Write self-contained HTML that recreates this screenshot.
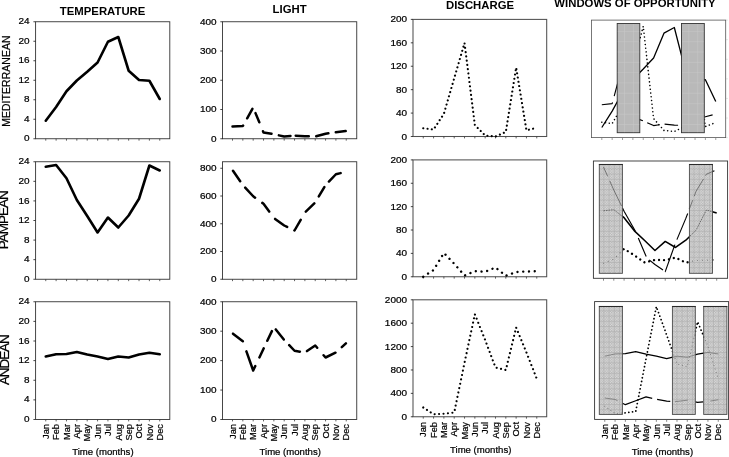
<!DOCTYPE html>
<html><head><meta charset="utf-8"><title>Figure</title>
<style>html,body{margin:0;padding:0;background:#fff}svg{display:block;filter:grayscale(1)}</style>
</head><body>
<svg width="729" height="457" viewBox="0 0 729 457" font-family='"Liberation Sans", sans-serif'>
<rect width="729" height="457" fill="#fff"/>
<text transform="translate(102.60 14.50) scale(1.135 1)" font-size="10.0" text-anchor="middle" fill="#000" font-weight="700">TEMPERATURE</text>
<text transform="translate(289.60 12.50) scale(1.135 1)" font-size="10.0" text-anchor="middle" fill="#000" font-weight="700">LIGHT</text>
<text transform="translate(480.00 9.40) scale(1.135 1)" font-size="10.0" text-anchor="middle" fill="#000" font-weight="700">DISCHARGE</text>
<text transform="translate(635.00 7.30) scale(1.135 1)" font-size="10.0" text-anchor="middle" fill="#000" font-weight="700">WINDOWS OF OPPORTUNITY</text>
<text transform="translate(9.70 81.10) rotate(-90) scale(1.0 1)" font-size="10.4" text-anchor="middle" fill="#000" stroke="#000" stroke-width="0.22" letter-spacing="0.1">MEDITERRANEAN</text>
<text transform="translate(8.40 220.25) rotate(-90) scale(1.0 1)" font-size="13.5" text-anchor="middle" fill="#000" stroke="#000" stroke-width="0.22" letter-spacing="-1.03">PAMPEAN</text>
<text transform="translate(8.60 360.20) rotate(-90) scale(1.0 1)" font-size="13.5" text-anchor="middle" fill="#000" stroke="#000" stroke-width="0.22" letter-spacing="-1.08">ANDEAN</text>
<rect x="35.6" y="21.75" width="134.20000000000002" height="117.0" fill="none" stroke="#333" stroke-width="0.9"/>
<path d="M35.60 21.75h-2.2M35.60 41.25h-2.2M35.60 60.75h-2.2M35.60 80.25h-2.2M35.60 99.75h-2.2M35.60 119.25h-2.2M35.60 138.75h-2.2" stroke="#1a1a1a" stroke-width="0.8" fill="none"/>
<text transform="translate(29.60 24.35) scale(1.085 1)" font-size="9.2" text-anchor="end" fill="#000" stroke="#000" stroke-width="0.22">24</text>
<text transform="translate(29.60 43.85) scale(1.085 1)" font-size="9.2" text-anchor="end" fill="#000" stroke="#000" stroke-width="0.22">20</text>
<text transform="translate(29.60 63.35) scale(1.085 1)" font-size="9.2" text-anchor="end" fill="#000" stroke="#000" stroke-width="0.22">16</text>
<text transform="translate(29.60 82.85) scale(1.085 1)" font-size="9.2" text-anchor="end" fill="#000" stroke="#000" stroke-width="0.22">12</text>
<text transform="translate(29.60 102.35) scale(1.085 1)" font-size="9.2" text-anchor="end" fill="#000" stroke="#000" stroke-width="0.22">8</text>
<text transform="translate(29.60 121.85) scale(1.085 1)" font-size="9.2" text-anchor="end" fill="#000" stroke="#000" stroke-width="0.22">4</text>
<text transform="translate(29.60 141.35) scale(1.085 1)" font-size="9.2" text-anchor="end" fill="#000" stroke="#000" stroke-width="0.22">0</text>
<path d="M45.75 138.75v1.9M56.11 138.75v1.9M66.48 138.75v1.9M76.84 138.75v1.9M87.21 138.75v1.9M97.57 138.75v1.9M107.93 138.75v1.9M118.30 138.75v1.9M128.66 138.75v1.9M139.03 138.75v1.9M149.39 138.75v1.9M159.75 138.75v1.9" stroke="#3a3a3a" stroke-width="0.8" fill="none"/>
<polyline points="45.75,120.75 56.11,107.00 66.48,91.25 76.84,80.50 87.21,71.75 97.57,62.50 107.93,41.75 118.30,37.00 128.66,70.75 139.03,80.00 149.39,80.75 159.75,99.00" fill="none" stroke="#000" stroke-width="2.6" stroke-linejoin="round" stroke-linecap="round"/>
<rect x="35.6" y="161.75" width="134.20000000000002" height="117.5" fill="none" stroke="#333" stroke-width="0.9"/>
<path d="M35.60 161.75h-2.2M35.60 181.33h-2.2M35.60 200.92h-2.2M35.60 220.50h-2.2M35.60 240.08h-2.2M35.60 259.67h-2.2M35.60 279.25h-2.2" stroke="#1a1a1a" stroke-width="0.8" fill="none"/>
<text transform="translate(29.60 164.35) scale(1.085 1)" font-size="9.2" text-anchor="end" fill="#000" stroke="#000" stroke-width="0.22">24</text>
<text transform="translate(29.60 183.93) scale(1.085 1)" font-size="9.2" text-anchor="end" fill="#000" stroke="#000" stroke-width="0.22">20</text>
<text transform="translate(29.60 203.52) scale(1.085 1)" font-size="9.2" text-anchor="end" fill="#000" stroke="#000" stroke-width="0.22">16</text>
<text transform="translate(29.60 223.10) scale(1.085 1)" font-size="9.2" text-anchor="end" fill="#000" stroke="#000" stroke-width="0.22">12</text>
<text transform="translate(29.60 242.68) scale(1.085 1)" font-size="9.2" text-anchor="end" fill="#000" stroke="#000" stroke-width="0.22">8</text>
<text transform="translate(29.60 262.27) scale(1.085 1)" font-size="9.2" text-anchor="end" fill="#000" stroke="#000" stroke-width="0.22">4</text>
<text transform="translate(29.60 281.85) scale(1.085 1)" font-size="9.2" text-anchor="end" fill="#000" stroke="#000" stroke-width="0.22">0</text>
<path d="M45.75 279.25v1.9M56.11 279.25v1.9M66.48 279.25v1.9M76.84 279.25v1.9M87.21 279.25v1.9M97.57 279.25v1.9M107.93 279.25v1.9M118.30 279.25v1.9M128.66 279.25v1.9M139.03 279.25v1.9M149.39 279.25v1.9M159.75 279.25v1.9" stroke="#3a3a3a" stroke-width="0.8" fill="none"/>
<polyline points="45.75,166.75 56.11,165.00 66.48,178.25 76.84,200.00 87.21,216.00 97.57,232.50 107.93,217.50 118.30,227.50 128.66,215.50 139.03,198.75 149.39,165.50 159.75,170.50" fill="none" stroke="#000" stroke-width="2.6" stroke-linejoin="round" stroke-linecap="round"/>
<rect x="35.6" y="301.75" width="134.20000000000002" height="117.75" fill="none" stroke="#333" stroke-width="0.9"/>
<path d="M35.60 301.75h-2.2M35.60 321.38h-2.2M35.60 341.00h-2.2M35.60 360.62h-2.2M35.60 380.25h-2.2M35.60 399.88h-2.2M35.60 419.50h-2.2" stroke="#1a1a1a" stroke-width="0.8" fill="none"/>
<text transform="translate(29.60 304.35) scale(1.085 1)" font-size="9.2" text-anchor="end" fill="#000" stroke="#000" stroke-width="0.22">24</text>
<text transform="translate(29.60 323.98) scale(1.085 1)" font-size="9.2" text-anchor="end" fill="#000" stroke="#000" stroke-width="0.22">20</text>
<text transform="translate(29.60 343.60) scale(1.085 1)" font-size="9.2" text-anchor="end" fill="#000" stroke="#000" stroke-width="0.22">16</text>
<text transform="translate(29.60 363.23) scale(1.085 1)" font-size="9.2" text-anchor="end" fill="#000" stroke="#000" stroke-width="0.22">12</text>
<text transform="translate(29.60 382.85) scale(1.085 1)" font-size="9.2" text-anchor="end" fill="#000" stroke="#000" stroke-width="0.22">8</text>
<text transform="translate(29.60 402.48) scale(1.085 1)" font-size="9.2" text-anchor="end" fill="#000" stroke="#000" stroke-width="0.22">4</text>
<text transform="translate(29.60 422.10) scale(1.085 1)" font-size="9.2" text-anchor="end" fill="#000" stroke="#000" stroke-width="0.22">0</text>
<path d="M45.75 419.50v1.9M56.11 419.50v1.9M66.48 419.50v1.9M76.84 419.50v1.9M87.21 419.50v1.9M97.57 419.50v1.9M107.93 419.50v1.9M118.30 419.50v1.9M128.66 419.50v1.9M139.03 419.50v1.9M149.39 419.50v1.9M159.75 419.50v1.9" stroke="#3a3a3a" stroke-width="0.8" fill="none"/>
<polyline points="45.75,356.50 56.11,354.25 66.48,354.00 76.84,352.00 87.21,354.50 97.57,356.50 107.93,359.00 118.30,356.50 128.66,357.50 139.03,354.50 149.39,352.75 159.75,354.25" fill="none" stroke="#000" stroke-width="2.6" stroke-linejoin="round" stroke-linecap="round"/>
<text transform="translate(48.95 424.00) rotate(-90) scale(1.0 1)" font-size="9.3" text-anchor="end" fill="#000" stroke="#000" stroke-width="0.22">Jan</text>
<text transform="translate(59.31 424.00) rotate(-90) scale(1.0 1)" font-size="9.3" text-anchor="end" fill="#000" stroke="#000" stroke-width="0.22">Feb</text>
<text transform="translate(69.68 424.00) rotate(-90) scale(1.0 1)" font-size="9.3" text-anchor="end" fill="#000" stroke="#000" stroke-width="0.22">Mar</text>
<text transform="translate(80.04 424.00) rotate(-90) scale(1.0 1)" font-size="9.3" text-anchor="end" fill="#000" stroke="#000" stroke-width="0.22">Apr</text>
<text transform="translate(90.41 424.00) rotate(-90) scale(1.0 1)" font-size="9.3" text-anchor="end" fill="#000" stroke="#000" stroke-width="0.22">May</text>
<text transform="translate(100.77 424.00) rotate(-90) scale(1.0 1)" font-size="9.3" text-anchor="end" fill="#000" stroke="#000" stroke-width="0.22">Jun</text>
<text transform="translate(111.13 424.00) rotate(-90) scale(1.0 1)" font-size="9.3" text-anchor="end" fill="#000" stroke="#000" stroke-width="0.22">Jul</text>
<text transform="translate(121.50 424.00) rotate(-90) scale(1.0 1)" font-size="9.3" text-anchor="end" fill="#000" stroke="#000" stroke-width="0.22">Aug</text>
<text transform="translate(131.86 424.00) rotate(-90) scale(1.0 1)" font-size="9.3" text-anchor="end" fill="#000" stroke="#000" stroke-width="0.22">Sep</text>
<text transform="translate(142.23 424.00) rotate(-90) scale(1.0 1)" font-size="9.3" text-anchor="end" fill="#000" stroke="#000" stroke-width="0.22">Oct</text>
<text transform="translate(152.59 424.00) rotate(-90) scale(1.0 1)" font-size="9.3" text-anchor="end" fill="#000" stroke="#000" stroke-width="0.22">Nov</text>
<text transform="translate(162.95 424.00) rotate(-90) scale(1.0 1)" font-size="9.3" text-anchor="end" fill="#000" stroke="#000" stroke-width="0.22">Dec</text>
<text transform="translate(102.90 455.40) scale(1.02 1)" font-size="9.4" text-anchor="middle" fill="#000" stroke="#000" stroke-width="0.22">Time (months)</text>
<rect x="222.5" y="21.75" width="134.25" height="117.0" fill="none" stroke="#333" stroke-width="0.9"/>
<path d="M222.50 138.75h-2.2M222.50 109.50h-2.2M222.50 80.25h-2.2M222.50 51.00h-2.2M222.50 21.75h-2.2" stroke="#1a1a1a" stroke-width="0.8" fill="none"/>
<text transform="translate(216.60 141.55) scale(1.085 1)" font-size="9.2" text-anchor="end" fill="#000" stroke="#000" stroke-width="0.22">0</text>
<text transform="translate(216.60 112.30) scale(1.085 1)" font-size="9.2" text-anchor="end" fill="#000" stroke="#000" stroke-width="0.22">100</text>
<text transform="translate(216.60 83.05) scale(1.085 1)" font-size="9.2" text-anchor="end" fill="#000" stroke="#000" stroke-width="0.22">200</text>
<text transform="translate(216.60 53.80) scale(1.085 1)" font-size="9.2" text-anchor="end" fill="#000" stroke="#000" stroke-width="0.22">300</text>
<text transform="translate(216.60 24.55) scale(1.085 1)" font-size="9.2" text-anchor="end" fill="#000" stroke="#000" stroke-width="0.22">400</text>
<path d="M232.50 138.75v1.9M242.84 138.75v1.9M253.18 138.75v1.9M263.52 138.75v1.9M273.86 138.75v1.9M284.20 138.75v1.9M294.54 138.75v1.9M304.88 138.75v1.9M315.22 138.75v1.9M325.56 138.75v1.9M335.90 138.75v1.9M346.24 138.75v1.9" stroke="#3a3a3a" stroke-width="0.8" fill="none"/>
<path d="M232.50 126.50L242.84 126.00L243.10 125.53M247.15 118.29L252.40 108.90M255.50 113.11L259.30 122.30M263.00 131.24L263.52 132.50L271.50 133.85M278.90 135.35L284.20 136.50L290.50 136.04M295.70 135.81L304.88 136.25L308.80 136.34M316.20 136.24L325.56 133.75L328.40 133.34M335.80 132.26L335.90 132.25L345.70 131.07" fill="none" stroke="#000" stroke-width="2.5" stroke-linejoin="round" stroke-linecap="round"/>
<rect x="222.5" y="161.75" width="134.25" height="117.5" fill="none" stroke="#333" stroke-width="0.9"/>
<path d="M222.50 279.25h-2.2M222.50 251.50h-2.2M222.50 223.75h-2.2M222.50 196.00h-2.2M222.50 168.25h-2.2" stroke="#1a1a1a" stroke-width="0.8" fill="none"/>
<text transform="translate(216.60 282.05) scale(1.085 1)" font-size="9.2" text-anchor="end" fill="#000" stroke="#000" stroke-width="0.22">0</text>
<text transform="translate(216.60 254.30) scale(1.085 1)" font-size="9.2" text-anchor="end" fill="#000" stroke="#000" stroke-width="0.22">200</text>
<text transform="translate(216.60 226.55) scale(1.085 1)" font-size="9.2" text-anchor="end" fill="#000" stroke="#000" stroke-width="0.22">400</text>
<text transform="translate(216.60 198.80) scale(1.085 1)" font-size="9.2" text-anchor="end" fill="#000" stroke="#000" stroke-width="0.22">600</text>
<text transform="translate(216.60 171.05) scale(1.085 1)" font-size="9.2" text-anchor="end" fill="#000" stroke="#000" stroke-width="0.22">800</text>
<path d="M232.50 279.25v1.9M242.84 279.25v1.9M253.18 279.25v1.9M263.52 279.25v1.9M273.86 279.25v1.9M284.20 279.25v1.9M294.54 279.25v1.9M304.88 279.25v1.9M315.22 279.25v1.9M325.56 279.25v1.9M335.90 279.25v1.9M346.24 279.25v1.9" stroke="#3a3a3a" stroke-width="0.8" fill="none"/>
<path d="M233.00 170.73L240.20 181.17M245.20 187.57L253.18 196.25L255.10 197.64M262.30 202.87L263.52 203.75L269.20 211.58M275.10 218.90L284.20 225.50L287.15 226.93M294.40 230.43L294.54 230.50L300.70 219.78M305.80 211.61L314.30 203.39M318.80 196.44L324.35 187.05M328.90 181.53L335.90 174.25L340.60 173.11" fill="none" stroke="#000" stroke-width="2.5" stroke-linejoin="round" stroke-linecap="round"/>
<rect x="222.5" y="301.75" width="134.25" height="117.75" fill="none" stroke="#333" stroke-width="0.9"/>
<path d="M222.50 419.50h-2.2M222.50 390.06h-2.2M222.50 360.62h-2.2M222.50 331.19h-2.2M222.50 301.75h-2.2" stroke="#1a1a1a" stroke-width="0.8" fill="none"/>
<text transform="translate(216.60 422.30) scale(1.085 1)" font-size="9.2" text-anchor="end" fill="#000" stroke="#000" stroke-width="0.22">0</text>
<text transform="translate(216.60 392.86) scale(1.085 1)" font-size="9.2" text-anchor="end" fill="#000" stroke="#000" stroke-width="0.22">100</text>
<text transform="translate(216.60 363.43) scale(1.085 1)" font-size="9.2" text-anchor="end" fill="#000" stroke="#000" stroke-width="0.22">200</text>
<text transform="translate(216.60 333.99) scale(1.085 1)" font-size="9.2" text-anchor="end" fill="#000" stroke="#000" stroke-width="0.22">300</text>
<text transform="translate(216.60 304.55) scale(1.085 1)" font-size="9.2" text-anchor="end" fill="#000" stroke="#000" stroke-width="0.22">400</text>
<path d="M232.50 419.50v1.9M242.84 419.50v1.9M253.18 419.50v1.9M263.52 419.50v1.9M273.86 419.50v1.9M284.20 419.50v1.9M294.54 419.50v1.9M304.88 419.50v1.9M315.22 419.50v1.9M325.56 419.50v1.9M335.90 419.50v1.9M346.24 419.50v1.9" stroke="#3a3a3a" stroke-width="0.8" fill="none"/>
<path d="M233.00 333.64L242.80 341.22M246.40 351.32L253.18 370.50L255.30 366.04M259.40 357.42L263.52 348.75L263.70 348.37M267.30 340.80L271.90 331.12M275.80 329.44L283.80 339.50M289.20 345.20L294.54 350.75L299.90 351.66M307.00 351.06L315.22 345.50L317.20 347.80M323.60 355.23L325.56 357.50L335.50 352.69M341.80 347.08L345.90 343.31" fill="none" stroke="#000" stroke-width="2.5" stroke-linejoin="round" stroke-linecap="round"/>
<text transform="translate(235.70 424.00) rotate(-90) scale(1.0 1)" font-size="9.3" text-anchor="end" fill="#000" stroke="#000" stroke-width="0.22">Jan</text>
<text transform="translate(246.04 424.00) rotate(-90) scale(1.0 1)" font-size="9.3" text-anchor="end" fill="#000" stroke="#000" stroke-width="0.22">Feb</text>
<text transform="translate(256.38 424.00) rotate(-90) scale(1.0 1)" font-size="9.3" text-anchor="end" fill="#000" stroke="#000" stroke-width="0.22">Mar</text>
<text transform="translate(266.72 424.00) rotate(-90) scale(1.0 1)" font-size="9.3" text-anchor="end" fill="#000" stroke="#000" stroke-width="0.22">Apr</text>
<text transform="translate(277.06 424.00) rotate(-90) scale(1.0 1)" font-size="9.3" text-anchor="end" fill="#000" stroke="#000" stroke-width="0.22">May</text>
<text transform="translate(287.40 424.00) rotate(-90) scale(1.0 1)" font-size="9.3" text-anchor="end" fill="#000" stroke="#000" stroke-width="0.22">Jun</text>
<text transform="translate(297.74 424.00) rotate(-90) scale(1.0 1)" font-size="9.3" text-anchor="end" fill="#000" stroke="#000" stroke-width="0.22">Jul</text>
<text transform="translate(308.08 424.00) rotate(-90) scale(1.0 1)" font-size="9.3" text-anchor="end" fill="#000" stroke="#000" stroke-width="0.22">Aug</text>
<text transform="translate(318.42 424.00) rotate(-90) scale(1.0 1)" font-size="9.3" text-anchor="end" fill="#000" stroke="#000" stroke-width="0.22">Sep</text>
<text transform="translate(328.76 424.00) rotate(-90) scale(1.0 1)" font-size="9.3" text-anchor="end" fill="#000" stroke="#000" stroke-width="0.22">Oct</text>
<text transform="translate(339.10 424.00) rotate(-90) scale(1.0 1)" font-size="9.3" text-anchor="end" fill="#000" stroke="#000" stroke-width="0.22">Nov</text>
<text transform="translate(349.44 424.00) rotate(-90) scale(1.0 1)" font-size="9.3" text-anchor="end" fill="#000" stroke="#000" stroke-width="0.22">Dec</text>
<text transform="translate(290.20 455.40) scale(1.02 1)" font-size="9.4" text-anchor="middle" fill="#000" stroke="#000" stroke-width="0.22">Time (months)</text>
<rect x="413.0" y="19.4" width="133.70000000000005" height="117.1" fill="none" stroke="#505050" stroke-width="1.05"/>
<path d="M413.00 136.50h-2.2M413.00 113.08h-2.2M413.00 89.66h-2.2M413.00 66.24h-2.2M413.00 42.82h-2.2M413.00 19.40h-2.2" stroke="#1a1a1a" stroke-width="0.8" fill="none"/>
<text transform="translate(407.00 139.50) scale(1.085 1)" font-size="9.2" text-anchor="end" fill="#000" stroke="#000" stroke-width="0.22">0</text>
<text transform="translate(407.00 116.08) scale(1.085 1)" font-size="9.2" text-anchor="end" fill="#000" stroke="#000" stroke-width="0.22">40</text>
<text transform="translate(407.00 92.66) scale(1.085 1)" font-size="9.2" text-anchor="end" fill="#000" stroke="#000" stroke-width="0.22">80</text>
<text transform="translate(407.00 69.24) scale(1.085 1)" font-size="9.2" text-anchor="end" fill="#000" stroke="#000" stroke-width="0.22">120</text>
<text transform="translate(407.00 45.82) scale(1.085 1)" font-size="9.2" text-anchor="end" fill="#000" stroke="#000" stroke-width="0.22">160</text>
<text transform="translate(407.00 22.40) scale(1.085 1)" font-size="9.2" text-anchor="end" fill="#000" stroke="#000" stroke-width="0.22">200</text>
<path d="M423.25 136.50v1.9M433.57 136.50v1.9M443.89 136.50v1.9M454.21 136.50v1.9M464.53 136.50v1.9M474.85 136.50v1.9M485.17 136.50v1.9M495.49 136.50v1.9M505.81 136.50v1.9M516.13 136.50v1.9M526.45 136.50v1.9M536.77 136.50v1.9" stroke="#3a3a3a" stroke-width="0.8" fill="none"/>
<polyline points="423.25,128.25 433.57,129.50 443.89,113.75 454.21,78.25 464.53,43.00 474.85,125.00 485.17,135.50 495.49,136.50 505.81,132.00 516.13,67.50 526.45,130.30 536.77,127.80" fill="none" stroke="#000" stroke-width="2.15" stroke-dasharray="0.01 4.3" stroke-linejoin="round" stroke-linecap="round"/>
<rect x="413.0" y="159.9" width="133.70000000000005" height="116.85" fill="none" stroke="#505050" stroke-width="1.05"/>
<path d="M413.00 276.75h-2.2M413.00 253.38h-2.2M413.00 230.01h-2.2M413.00 206.64h-2.2M413.00 183.27h-2.2M413.00 159.90h-2.2" stroke="#1a1a1a" stroke-width="0.8" fill="none"/>
<text transform="translate(407.00 279.75) scale(1.085 1)" font-size="9.2" text-anchor="end" fill="#000" stroke="#000" stroke-width="0.22">0</text>
<text transform="translate(407.00 256.38) scale(1.085 1)" font-size="9.2" text-anchor="end" fill="#000" stroke="#000" stroke-width="0.22">40</text>
<text transform="translate(407.00 233.01) scale(1.085 1)" font-size="9.2" text-anchor="end" fill="#000" stroke="#000" stroke-width="0.22">80</text>
<text transform="translate(407.00 209.64) scale(1.085 1)" font-size="9.2" text-anchor="end" fill="#000" stroke="#000" stroke-width="0.22">120</text>
<text transform="translate(407.00 186.27) scale(1.085 1)" font-size="9.2" text-anchor="end" fill="#000" stroke="#000" stroke-width="0.22">160</text>
<text transform="translate(407.00 162.90) scale(1.085 1)" font-size="9.2" text-anchor="end" fill="#000" stroke="#000" stroke-width="0.22">200</text>
<path d="M423.25 276.75v1.9M433.57 276.75v1.9M443.89 276.75v1.9M454.21 276.75v1.9M464.53 276.75v1.9M474.85 276.75v1.9M485.17 276.75v1.9M495.49 276.75v1.9M505.81 276.75v1.9M516.13 276.75v1.9M526.45 276.75v1.9M536.77 276.75v1.9" stroke="#3a3a3a" stroke-width="0.8" fill="none"/>
<polyline points="423.25,276.75 433.57,270.00 443.89,253.00 454.21,263.75 464.53,275.50 474.85,271.25 485.17,271.75 495.49,267.50 505.81,275.75 516.13,272.00 526.45,271.50 536.77,271.25" fill="none" stroke="#000" stroke-width="2.4" stroke-dasharray="0.01 5.75" stroke-linejoin="round" stroke-linecap="round"/>
<rect x="413.0" y="299.8" width="133.70000000000005" height="116.94999999999999" fill="none" stroke="#505050" stroke-width="1.05"/>
<path d="M413.00 416.75h-2.2M413.00 393.36h-2.2M413.00 369.97h-2.2M413.00 346.58h-2.2M413.00 323.19h-2.2M413.00 299.80h-2.2" stroke="#1a1a1a" stroke-width="0.8" fill="none"/>
<text transform="translate(407.00 419.75) scale(1.085 1)" font-size="9.2" text-anchor="end" fill="#000" stroke="#000" stroke-width="0.22">0</text>
<text transform="translate(407.00 396.36) scale(1.085 1)" font-size="9.2" text-anchor="end" fill="#000" stroke="#000" stroke-width="0.22">400</text>
<text transform="translate(407.00 372.97) scale(1.085 1)" font-size="9.2" text-anchor="end" fill="#000" stroke="#000" stroke-width="0.22">800</text>
<text transform="translate(407.00 349.58) scale(1.085 1)" font-size="9.2" text-anchor="end" fill="#000" stroke="#000" stroke-width="0.22">1200</text>
<text transform="translate(407.00 326.19) scale(1.085 1)" font-size="9.2" text-anchor="end" fill="#000" stroke="#000" stroke-width="0.22">1600</text>
<text transform="translate(407.00 302.80) scale(1.085 1)" font-size="9.2" text-anchor="end" fill="#000" stroke="#000" stroke-width="0.22">2000</text>
<path d="M423.25 416.75v1.9M433.57 416.75v1.9M443.89 416.75v1.9M454.21 416.75v1.9M464.53 416.75v1.9M474.85 416.75v1.9M485.17 416.75v1.9M495.49 416.75v1.9M505.81 416.75v1.9M516.13 416.75v1.9M526.45 416.75v1.9M536.77 416.75v1.9" stroke="#3a3a3a" stroke-width="0.8" fill="none"/>
<polyline points="423.25,407.50 433.57,414.25 443.89,413.75 454.21,412.50 464.53,362.60 474.85,314.25 485.17,340.00 495.49,367.50 505.81,370.00 516.13,327.50 526.45,352.50 536.77,378.75" fill="none" stroke="#000" stroke-width="2.15" stroke-dasharray="0.01 4.45" stroke-linejoin="round" stroke-linecap="round"/>
<text transform="translate(426.45 422.00) rotate(-90) scale(1.0 1)" font-size="9.3" text-anchor="end" fill="#000" stroke="#000" stroke-width="0.22">Jan</text>
<text transform="translate(436.77 422.00) rotate(-90) scale(1.0 1)" font-size="9.3" text-anchor="end" fill="#000" stroke="#000" stroke-width="0.22">Feb</text>
<text transform="translate(447.09 422.00) rotate(-90) scale(1.0 1)" font-size="9.3" text-anchor="end" fill="#000" stroke="#000" stroke-width="0.22">Mar</text>
<text transform="translate(457.41 422.00) rotate(-90) scale(1.0 1)" font-size="9.3" text-anchor="end" fill="#000" stroke="#000" stroke-width="0.22">Apr</text>
<text transform="translate(467.73 422.00) rotate(-90) scale(1.0 1)" font-size="9.3" text-anchor="end" fill="#000" stroke="#000" stroke-width="0.22">May</text>
<text transform="translate(478.05 422.00) rotate(-90) scale(1.0 1)" font-size="9.3" text-anchor="end" fill="#000" stroke="#000" stroke-width="0.22">Jun</text>
<text transform="translate(488.37 422.00) rotate(-90) scale(1.0 1)" font-size="9.3" text-anchor="end" fill="#000" stroke="#000" stroke-width="0.22">Jul</text>
<text transform="translate(498.69 422.00) rotate(-90) scale(1.0 1)" font-size="9.3" text-anchor="end" fill="#000" stroke="#000" stroke-width="0.22">Aug</text>
<text transform="translate(509.01 422.00) rotate(-90) scale(1.0 1)" font-size="9.3" text-anchor="end" fill="#000" stroke="#000" stroke-width="0.22">Sep</text>
<text transform="translate(519.33 422.00) rotate(-90) scale(1.0 1)" font-size="9.3" text-anchor="end" fill="#000" stroke="#000" stroke-width="0.22">Oct</text>
<text transform="translate(529.65 422.00) rotate(-90) scale(1.0 1)" font-size="9.3" text-anchor="end" fill="#000" stroke="#000" stroke-width="0.22">Nov</text>
<text transform="translate(539.97 422.00) rotate(-90) scale(1.0 1)" font-size="9.3" text-anchor="end" fill="#000" stroke="#000" stroke-width="0.22">Dec</text>
<text transform="translate(480.70 453.20) scale(1.02 1)" font-size="9.4" text-anchor="middle" fill="#000" stroke="#000" stroke-width="0.22">Time (months)</text>
<defs><pattern id="hatch" width="2.6" height="2.6" patternUnits="userSpaceOnUse"><rect width="2.6" height="2.6" fill="#dadada"/><rect x="0" y="0" width="1.3" height="1.3" fill="#b6b6b6"/><rect x="1.3" y="1.3" width="1.3" height="1.3" fill="#bababa"/></pattern></defs>
<rect x="591.6" y="20.1" width="134.10000000000002" height="117.5" fill="none" stroke="#555" stroke-width="0.8"/>
<path d="M601.80 137.60v2.4M612.16 137.60v2.4M622.52 137.60v2.4M632.88 137.60v2.4M643.24 137.60v2.4M653.60 137.60v2.4M663.96 137.60v2.4M674.32 137.60v2.4M684.68 137.60v2.4M695.04 137.60v2.4M705.40 137.60v2.4M715.76 137.60v2.4" stroke="#777" stroke-width="0.7" fill="none"/>
<path d="M727.70 20.10h-1.6M727.70 39.68h-1.6M727.70 59.27h-1.6M727.70 78.85h-1.6M727.70 98.43h-1.6M727.70 118.02h-1.6M727.70 137.60h-1.6" stroke="#c8c8c8" stroke-width="0.6" fill="none"/>
<polyline points="601.80,127.50 612.16,111.08 622.52,92.27 632.88,79.44 643.24,68.99 653.60,57.95 663.96,33.17 674.32,27.50 684.68,67.80 695.04,78.84 705.40,79.74 715.76,101.53" fill="none" stroke="#000" stroke-width="1.3" stroke-linejoin="round" stroke-linecap="butt"/>
<path d="M601.80 104.70L612.16 103.66L612.50 102.39M614.20 96.04L618.00 81.86M639.00 119.40L642.90 120.78M647.20 122.69L653.60 125.60L659.30 124.74M664.60 124.10L674.32 125.08L678.10 125.27M703.00 117.44L705.40 116.72L712.60 114.90" fill="none" stroke="#000" stroke-width="1.15" stroke-linejoin="round" stroke-linecap="butt"/>
<polyline points="601.80,122.22 612.16,123.62 622.52,105.89 632.88,65.93 643.24,26.25 653.60,118.56 663.96,130.38 674.32,131.50 684.68,126.44 695.04,53.83 705.40,126.50 715.76,122.50" fill="none" stroke="#000" stroke-width="1.6" stroke-dasharray="0.01 3.75" stroke-linejoin="round" stroke-linecap="round"/>
<rect x="617.2" y="23.5" width="22.59999999999991" height="109.19999999999999" fill="#b9b9b9" stroke="#333" stroke-width="0.9"/>
<path d="M617.8000000000001 31.4H639.1999999999999M617.8000000000001 41.7H639.1999999999999M617.8000000000001 52H639.1999999999999M617.8000000000001 62.3H639.1999999999999M617.8000000000001 72.6H639.1999999999999M617.8000000000001 82.9H639.1999999999999M617.8000000000001 93.2H639.1999999999999M617.8000000000001 103.7H639.1999999999999M617.8000000000001 114.2H639.1999999999999M617.8000000000001 124.5H639.1999999999999M624.5 24V132.2M633.4000000000001 24V132.2" stroke="#c9c9c9" stroke-width="0.5" fill="none"/>
<rect x="681.5" y="23.5" width="22.799999999999955" height="109.19999999999999" fill="#b9b9b9" stroke="#333" stroke-width="0.9"/>
<path d="M682.1 31.4H703.6999999999999M682.1 41.7H703.6999999999999M682.1 52H703.6999999999999M682.1 62.3H703.6999999999999M682.1 72.6H703.6999999999999M682.1 82.9H703.6999999999999M682.1 93.2H703.6999999999999M682.1 103.7H703.6999999999999M682.1 114.2H703.6999999999999M682.1 124.5H703.6999999999999M688.8 24V132.2M697.7 24V132.2" stroke="#c9c9c9" stroke-width="0.5" fill="none"/>
<rect x="593.4" y="161.0" width="134.20000000000005" height="117.30000000000001" fill="none" stroke="#333" stroke-width="0.9"/>
<path d="M603.50 278.30v2.4M613.79 278.30v2.4M624.08 278.30v2.4M634.37 278.30v2.4M644.66 278.30v2.4M654.95 278.30v2.4M665.24 278.30v2.4M675.53 278.30v2.4M685.82 278.30v2.4M696.11 278.30v2.4M706.40 278.30v2.4M716.69 278.30v2.4" stroke="#555" stroke-width="0.7" fill="none"/>
<polyline points="603.50,210.75 613.79,209.69 624.08,217.70 634.37,230.85 644.66,240.53 654.95,250.50 665.24,241.43 675.53,247.48 685.82,240.22 696.11,230.10 706.40,209.99 716.69,213.02" fill="none" stroke="#000" stroke-width="1.55" stroke-linejoin="round" stroke-linecap="butt"/>
<path d="M603.50 167.00L607.70 176.39M609.70 180.86L613.79 190.00L621.50 205.88M622.50 207.94L624.08 211.20L635.40 231.29M638.30 237.91L646.20 256.58M649.20 259.91L654.95 264.50L663.00 270.05M665.20 271.57L665.24 271.60L674.90 244.66M676.90 239.64L685.82 218.40L687.70 213.43M689.30 209.20L692.70 200.21M694.20 196.25L696.11 191.20L703.50 178.99M705.50 175.69L706.40 174.20L714.40 170.78" fill="none" stroke="#000" stroke-width="1.15" stroke-linejoin="round" stroke-linecap="butt"/>
<polyline points="603.50,263.25 613.79,259.13 624.08,248.76 634.37,255.32 644.66,262.49 654.95,259.89 665.24,260.20 675.53,257.61 685.82,262.64 696.11,260.35 706.40,260.05 716.69,259.89" fill="none" stroke="#000" stroke-width="2.3" stroke-dasharray="0.01 5.0" stroke-linejoin="round" stroke-linecap="round"/>
<clipPath id="c2"><rect x="599.3" y="164.5" width="23.100000000000023" height="108.80000000000001"/><rect x="689.4" y="164.5" width="23.100000000000023" height="108.80000000000001"/></clipPath>
<rect x="599.3" y="164.5" width="23.100000000000023" height="108.80000000000001" fill="url(#hatch)"/>
<path d="M603.90 164.5V273.3M609.10 164.5V273.3M614.30 164.5V273.3M619.50 164.5V273.3M599.3 168.90H622.4M599.3 174.10H622.4M599.3 179.30H622.4M599.3 184.50H622.4M599.3 189.70H622.4M599.3 194.90H622.4M599.3 200.10H622.4M599.3 205.30H622.4M599.3 210.50H622.4M599.3 215.70H622.4M599.3 220.90H622.4M599.3 226.10H622.4M599.3 231.30H622.4M599.3 236.50H622.4M599.3 241.70H622.4M599.3 246.90H622.4M599.3 252.10H622.4M599.3 257.30H622.4M599.3 262.50H622.4M599.3 267.70H622.4" stroke="#a9a9a9" stroke-width="0.5" fill="none"/>
<rect x="689.4" y="164.5" width="23.100000000000023" height="108.80000000000001" fill="url(#hatch)"/>
<path d="M694.00 164.5V273.3M699.20 164.5V273.3M704.40 164.5V273.3M709.60 164.5V273.3M689.4 168.90H712.5M689.4 174.10H712.5M689.4 179.30H712.5M689.4 184.50H712.5M689.4 189.70H712.5M689.4 194.90H712.5M689.4 200.10H712.5M689.4 205.30H712.5M689.4 210.50H712.5M689.4 215.70H712.5M689.4 220.90H712.5M689.4 226.10H712.5M689.4 231.30H712.5M689.4 236.50H712.5M689.4 241.70H712.5M689.4 246.90H712.5M689.4 252.10H712.5M689.4 257.30H712.5M689.4 262.50H712.5M689.4 267.70H712.5" stroke="#a9a9a9" stroke-width="0.5" fill="none"/>
<g clip-path="url(#c2)">
<polyline points="603.50,210.75 613.79,209.69 624.08,217.70 634.37,230.85 644.66,240.53 654.95,250.50 665.24,241.43 675.53,247.48 685.82,240.22 696.11,230.10 706.40,209.99 716.69,213.02" fill="none" stroke="#505050" stroke-width="0.75" stroke-dasharray="1.6 0.9" stroke-linejoin="round" stroke-linecap="butt"/>
<path d="M603.50 167.00L607.70 176.39M609.70 180.86L613.79 190.00L621.50 205.88M622.50 207.94L624.08 211.20L635.40 231.29M638.30 237.91L646.20 256.58M649.20 259.91L654.95 264.50L663.00 270.05M665.20 271.57L665.24 271.60L674.90 244.66M676.90 239.64L685.82 218.40L687.70 213.43M689.30 209.20L692.70 200.21M694.20 196.25L696.11 191.20L703.50 178.99M705.50 175.69L706.40 174.20L714.40 170.78" fill="none" stroke="#505050" stroke-width="0.7" stroke-linejoin="round" stroke-linecap="butt"/>
<polyline points="603.50,263.25 613.79,259.13 624.08,248.76 634.37,255.32 644.66,262.49 654.95,259.89 665.24,260.20 675.53,257.61 685.82,262.64 696.11,260.35 706.40,260.05 716.69,259.89" fill="none" stroke="#7a7a7a" stroke-width="1.2" stroke-dasharray="0.01 5.0" stroke-linejoin="round" stroke-linecap="round"/>
</g>
<rect x="599.3" y="164.5" width="23.100000000000023" height="108.80000000000001" fill="none" stroke="#4a4a4a" stroke-width="0.9"/>
<path d="M598.9 164.5H622.8" stroke="#2a2a2a" stroke-width="1.1"/>
<rect x="689.4" y="164.5" width="23.100000000000023" height="108.80000000000001" fill="none" stroke="#4a4a4a" stroke-width="0.9"/>
<path d="M689.0 164.5H712.9" stroke="#2a2a2a" stroke-width="1.1"/>
<rect x="594.6" y="301.6" width="134.0" height="117.79999999999995" fill="none" stroke="#333" stroke-width="0.9"/>
<path d="M604.75 419.40v2.4M615.07 419.40v2.4M625.39 419.40v2.4M635.71 419.40v2.4M646.03 419.40v2.4M656.35 419.40v2.4M666.67 419.40v2.4M676.99 419.40v2.4M687.31 419.40v2.4M697.63 419.40v2.4M707.95 419.40v2.4M718.27 419.40v2.4" stroke="#555" stroke-width="0.7" fill="none"/>
<polyline points="604.75,356.20 615.07,353.95 625.39,353.70 635.71,351.70 646.03,354.20 656.35,356.20 666.67,358.70 676.99,356.20 687.31,357.20 697.63,354.20 707.95,352.45 718.27,353.95" fill="none" stroke="#000" stroke-width="1.3" stroke-linejoin="round" stroke-linecap="butt"/>
<path d="M604.75 398.00L615.07 399.44L617.60 400.73M622.50 403.23L625.39 404.70L635.71 400.79L646.03 396.88L652.20 398.27M657.10 399.36L666.67 401.15L670.30 401.26M674.90 401.40L676.99 401.46L687.31 400.20L687.70 400.29M695.20 401.86L697.63 402.37L703.10 401.89M710.40 401.06L718.27 399.75" fill="none" stroke="#000" stroke-width="1.25" stroke-linejoin="round" stroke-linecap="butt"/>
<polyline points="604.75,406.27 615.07,413.40 625.39,412.87 635.71,411.55 646.03,358.86 656.35,306.60 666.67,334.99 676.99,364.03 687.31,366.67 697.63,321.79 707.95,346.50 718.27,379.00" fill="none" stroke="#000" stroke-width="1.8" stroke-dasharray="0.01 3.75" stroke-linejoin="round" stroke-linecap="round"/>
<clipPath id="c3"><rect x="599.3" y="306.5" width="23.100000000000023" height="107.89999999999998"/><rect x="672.4" y="306.5" width="22.899999999999977" height="107.89999999999998"/><rect x="703.7" y="306.5" width="23.199999999999932" height="107.89999999999998"/></clipPath>
<rect x="599.3" y="306.5" width="23.100000000000023" height="107.89999999999998" fill="url(#hatch)"/>
<path d="M603.90 306.5V414.4M609.10 306.5V414.4M614.30 306.5V414.4M619.50 306.5V414.4M599.3 310.90H622.4M599.3 316.10H622.4M599.3 321.30H622.4M599.3 326.50H622.4M599.3 331.70H622.4M599.3 336.90H622.4M599.3 342.10H622.4M599.3 347.30H622.4M599.3 352.50H622.4M599.3 357.70H622.4M599.3 362.90H622.4M599.3 368.10H622.4M599.3 373.30H622.4M599.3 378.50H622.4M599.3 383.70H622.4M599.3 388.90H622.4M599.3 394.10H622.4M599.3 399.30H622.4M599.3 404.50H622.4M599.3 409.70H622.4" stroke="#a9a9a9" stroke-width="0.5" fill="none"/>
<rect x="672.4" y="306.5" width="22.899999999999977" height="107.89999999999998" fill="url(#hatch)"/>
<path d="M677.00 306.5V414.4M682.20 306.5V414.4M687.40 306.5V414.4M692.60 306.5V414.4M672.4 310.90H695.3M672.4 316.10H695.3M672.4 321.30H695.3M672.4 326.50H695.3M672.4 331.70H695.3M672.4 336.90H695.3M672.4 342.10H695.3M672.4 347.30H695.3M672.4 352.50H695.3M672.4 357.70H695.3M672.4 362.90H695.3M672.4 368.10H695.3M672.4 373.30H695.3M672.4 378.50H695.3M672.4 383.70H695.3M672.4 388.90H695.3M672.4 394.10H695.3M672.4 399.30H695.3M672.4 404.50H695.3M672.4 409.70H695.3" stroke="#a9a9a9" stroke-width="0.5" fill="none"/>
<rect x="703.7" y="306.5" width="23.199999999999932" height="107.89999999999998" fill="url(#hatch)"/>
<path d="M708.30 306.5V414.4M713.50 306.5V414.4M718.70 306.5V414.4M723.90 306.5V414.4M703.7 310.90H726.9M703.7 316.10H726.9M703.7 321.30H726.9M703.7 326.50H726.9M703.7 331.70H726.9M703.7 336.90H726.9M703.7 342.10H726.9M703.7 347.30H726.9M703.7 352.50H726.9M703.7 357.70H726.9M703.7 362.90H726.9M703.7 368.10H726.9M703.7 373.30H726.9M703.7 378.50H726.9M703.7 383.70H726.9M703.7 388.90H726.9M703.7 394.10H726.9M703.7 399.30H726.9M703.7 404.50H726.9M703.7 409.70H726.9" stroke="#a9a9a9" stroke-width="0.5" fill="none"/>
<g clip-path="url(#c3)">
<polyline points="604.75,356.20 615.07,353.95 625.39,353.70 635.71,351.70 646.03,354.20 656.35,356.20 666.67,358.70 676.99,356.20 687.31,357.20 697.63,354.20 707.95,352.45 718.27,353.95" fill="none" stroke="#6a6a6a" stroke-width="0.7" stroke-linejoin="round" stroke-linecap="butt"/>
<path d="M604.75 398.00L615.07 399.44L617.60 400.73M622.50 403.23L625.39 404.70L635.71 400.79L646.03 396.88L652.20 398.27M657.10 399.36L666.67 401.15L670.30 401.26M674.90 401.40L676.99 401.46L687.31 400.20L687.70 400.29M695.20 401.86L697.63 402.37L703.10 401.89M710.40 401.06L718.27 399.75" fill="none" stroke="#6a6a6a" stroke-width="0.7" stroke-linejoin="round" stroke-linecap="butt"/>
<polyline points="604.75,406.27 615.07,413.40 625.39,412.87 635.71,411.55 646.03,358.86 656.35,306.60 666.67,334.99 676.99,364.03 687.31,366.67 697.63,321.79 707.95,346.50 718.27,379.00" fill="none" stroke="#7a7a7a" stroke-width="1.1" stroke-dasharray="0.01 3.75" stroke-linejoin="round" stroke-linecap="round"/>
</g>
<rect x="599.3" y="306.5" width="23.100000000000023" height="107.89999999999998" fill="none" stroke="#4a4a4a" stroke-width="0.9"/>
<path d="M598.9 306.5H622.8" stroke="#2a2a2a" stroke-width="1.1"/>
<rect x="672.4" y="306.5" width="22.899999999999977" height="107.89999999999998" fill="none" stroke="#4a4a4a" stroke-width="0.9"/>
<path d="M672.0 306.5H695.6999999999999" stroke="#2a2a2a" stroke-width="1.1"/>
<rect x="703.7" y="306.5" width="23.199999999999932" height="107.89999999999998" fill="none" stroke="#4a4a4a" stroke-width="0.9"/>
<path d="M703.3000000000001 306.5H727.3" stroke="#2a2a2a" stroke-width="1.1"/>
<text transform="translate(607.95 424.00) rotate(-90) scale(1.0 1)" font-size="9.3" text-anchor="end" fill="#000" stroke="#000" stroke-width="0.22">Jan</text>
<text transform="translate(618.27 424.00) rotate(-90) scale(1.0 1)" font-size="9.3" text-anchor="end" fill="#000" stroke="#000" stroke-width="0.22">Feb</text>
<text transform="translate(628.59 424.00) rotate(-90) scale(1.0 1)" font-size="9.3" text-anchor="end" fill="#000" stroke="#000" stroke-width="0.22">Mar</text>
<text transform="translate(638.91 424.00) rotate(-90) scale(1.0 1)" font-size="9.3" text-anchor="end" fill="#000" stroke="#000" stroke-width="0.22">Apr</text>
<text transform="translate(649.23 424.00) rotate(-90) scale(1.0 1)" font-size="9.3" text-anchor="end" fill="#000" stroke="#000" stroke-width="0.22">May</text>
<text transform="translate(659.55 424.00) rotate(-90) scale(1.0 1)" font-size="9.3" text-anchor="end" fill="#000" stroke="#000" stroke-width="0.22">Jun</text>
<text transform="translate(669.87 424.00) rotate(-90) scale(1.0 1)" font-size="9.3" text-anchor="end" fill="#000" stroke="#000" stroke-width="0.22">Jul</text>
<text transform="translate(680.19 424.00) rotate(-90) scale(1.0 1)" font-size="9.3" text-anchor="end" fill="#000" stroke="#000" stroke-width="0.22">Aug</text>
<text transform="translate(690.51 424.00) rotate(-90) scale(1.0 1)" font-size="9.3" text-anchor="end" fill="#000" stroke="#000" stroke-width="0.22">Sep</text>
<text transform="translate(700.83 424.00) rotate(-90) scale(1.0 1)" font-size="9.3" text-anchor="end" fill="#000" stroke="#000" stroke-width="0.22">Oct</text>
<text transform="translate(711.15 424.00) rotate(-90) scale(1.0 1)" font-size="9.3" text-anchor="end" fill="#000" stroke="#000" stroke-width="0.22">Nov</text>
<text transform="translate(721.47 424.00) rotate(-90) scale(1.0 1)" font-size="9.3" text-anchor="end" fill="#000" stroke="#000" stroke-width="0.22">Dec</text>
<text transform="translate(662.40 455.40) scale(1.02 1)" font-size="9.4" text-anchor="middle" fill="#000" stroke="#000" stroke-width="0.22">Time (months)</text>
</svg>
</body></html>
